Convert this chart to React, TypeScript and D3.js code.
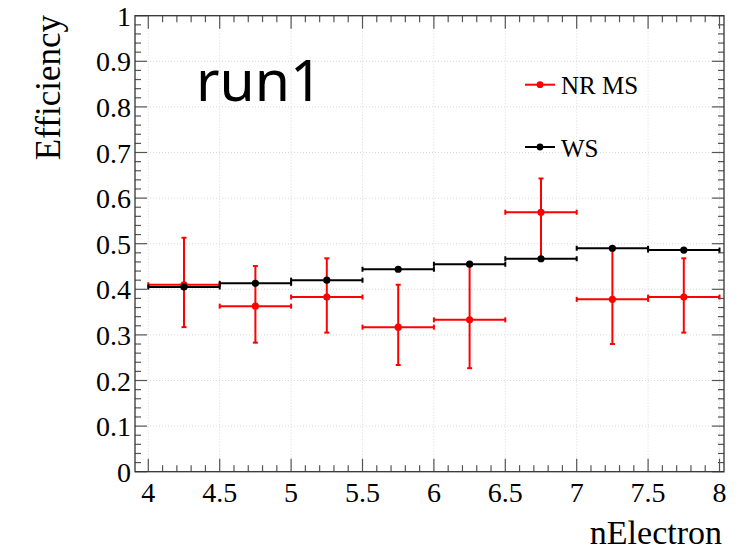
import React from "react";
import * as d3 from "d3";

const binCenters = [4.25, 4.75, 5.25, 5.75, 6.25, 6.75, 7.25, 7.75];
const binHalfWidth = 0.25;
const wsEff = [0.405, 0.413, 0.42, 0.444, 0.455, 0.467, 0.49, 0.486];
const nrEff = [0.41, 0.363, 0.383, 0.317, 0.333, 0.569, 0.378, 0.383];
const nrErrUp = [0.103, 0.088, 0.085, 0.093, 0.122, 0.074, 0.112, 0.085];
const nrErrLow = [0.093, 0.08, 0.078, 0.083, 0.106, 0.102, 0.098, 0.078];
const xTickLabels = ["4", "4.5", "5", "5.5", "6", "6.5", "7", "7.5", "8"];
const yTickLabels = ["0", "0.1", "0.2", "0.3", "0.4", "0.5", "0.6", "0.7", "0.8", "0.9", "1"];
const legendLabels = ["NR MS", "WS"];
const seriesColors = ["#ff0000", "#000000"];

const W = 744;
const H = 551;
const frame = { left: 135, right: 724, top: 15.7, bottom: 471.7 };
const serif = "'Liberation Serif', 'Times New Roman', serif";

export default function App() {
  const x = d3.scaleLinear().domain([4, 8]).range([148.3, 719.5]);
  const y = d3.scaleLinear().domain([0, 1]).range([frame.bottom, frame.top]);

  const xMajor = d3.range(0, 9).map((i) => 4 + i * 0.5);
  const xMinor = d3.range(0, 41).map((i) => 4 + i * 0.1).filter((v) => x(v) <= frame.right);
  const yMajor = d3.range(0, 11).map((i) => i * 0.1);
  const yMinor = d3.range(0, 51).map((i) => i * 0.02);

  const tickColor = "#555";
  const cap = 2.5;

  const seriesNR = binCenters.map((c, i) => ({ c, v: nrEff[i], up: nrErrUp[i], lo: nrErrLow[i] }));
  const seriesWS = binCenters.map((c, i) => ({ c, v: wsEff[i], up: 0, lo: 0 }));

  const drawSeries = (data: typeof seriesNR, color: string, key: string) => (
    <g key={key} stroke={color} strokeWidth={2} fill="none">
      {data.map((d, i) => {
        const x0 = x(d.c - binHalfWidth);
        const x1 = x(d.c + binHalfWidth);
        const xc = x(d.c);
        const yc = y(d.v);
        const yt = y(d.v + d.up);
        const yb = y(d.v - d.lo);
        return (
          <g key={i}>
            <line x1={x0} x2={x1} y1={yc} y2={yc} />
            <line x1={x0} x2={x0} y1={yc - cap} y2={yc + cap} />
            <line x1={x1} x2={x1} y1={yc - cap} y2={yc + cap} />
            {d.up > 0 && (
              <>
                <line x1={xc} x2={xc} y1={yt} y2={yb} />
                <line x1={xc - cap} x2={xc + cap} y1={yt} y2={yt} />
                <line x1={xc - cap} x2={xc + cap} y1={yb} y2={yb} />
              </>
            )}
            <circle cx={xc} cy={yc} r={3.6} fill={color} stroke="none" />
          </g>
        );
      })}
    </g>
  );

  return (
    <svg
      width={W}
      height={H}
      style={{ position: "absolute", left: 0, top: 0, background: "#fff" }}
    >
      <rect x={0} y={0} width={W} height={H} fill="#fff" />
      {/* grid */}
      <g stroke="#d8d8d8" strokeWidth={1} strokeDasharray="1,2">
        {xMajor.map((v, i) => (
          <line key={"gx" + i} x1={x(v)} x2={x(v)} y1={frame.top} y2={frame.bottom} />
        ))}
        {yMajor.map((v, i) => (
          <line key={"gy" + i} x1={frame.left} x2={frame.right} y1={y(v)} y2={y(v)} />
        ))}
      </g>
      {/* ticks */}
      <g stroke={tickColor} strokeWidth={1.2}>
        {xMinor.map((v, i) => {
          const major = Math.abs(v * 2 - Math.round(v * 2)) < 1e-6;
          const len = major ? 13 : 6.5;
          return (
            <g key={"xt" + i}>
              <line x1={x(v)} x2={x(v)} y1={frame.bottom} y2={frame.bottom - len} />
              <line x1={x(v)} x2={x(v)} y1={frame.top} y2={frame.top + len} />
            </g>
          );
        })}
        {yMinor.map((v, i) => {
          const major = i % 5 === 0;
          const len = major ? 12 : 6;
          return (
            <g key={"yt" + i}>
              <line x1={frame.left} x2={frame.left + len} y1={y(v)} y2={y(v)} />
              <line x1={frame.right} x2={frame.right - len} y1={y(v)} y2={y(v)} />
            </g>
          );
        })}
      </g>
      {/* frame */}
      <rect
        x={frame.left}
        y={frame.top}
        width={frame.right - frame.left}
        height={frame.bottom - frame.top}
        fill="none"
        stroke="#333"
        strokeWidth={1.3}
      />
      {/* tick labels */}
      <g fontFamily={serif} fontSize={28} fill="#000">
        {xMajor.map((v, i) => (
          <text key={"xl" + i} x={x(v)} y={502} textAnchor="middle">
            {xTickLabels[i]}
          </text>
        ))}
        {yMajor.map((v, i) => (
          <text key={"yl" + i} x={131} y={y(v) + 10} textAnchor="end">
            {yTickLabels[i]}
          </text>
        ))}
      </g>
      {/* axis titles */}
      <text x={722} y={544} textAnchor="end" fontFamily={serif} fontSize={34} fill="#000">
        nElectron
      </text>
      <text
        transform="translate(60,15) rotate(-90)"
        textAnchor="end"
        fontFamily={serif}
        fontSize={35}
        fill="#000"
      >
        Efficiency
      </text>
      {/* data */}
      {drawSeries(seriesNR, seriesColors[0], "nr")}
      {drawSeries(seriesWS, seriesColors[1], "ws")}
      {/* run label */}
      <text x={196} y={101} fontFamily="'Noto Sans', 'Open Sans', sans-serif" fontSize={57} fill="#000">
        run1
      </text>
      {/* legend */}
      {legendLabels.map((lab, i) => {
        const ly = 84.7 + i * 62.3;
        return (
          <g key={"lg" + i}>
            <line x1={525} x2={555} y1={ly} y2={ly} stroke={seriesColors[i]} strokeWidth={2} />
            <circle cx={540} cy={ly} r={3.4} fill={seriesColors[i]} />
            <text x={561} y={ly + 9.5} fontFamily={serif} fontSize={25} fill="#000">
              {lab}
            </text>
          </g>
        );
      })}
    </svg>
  );
}
